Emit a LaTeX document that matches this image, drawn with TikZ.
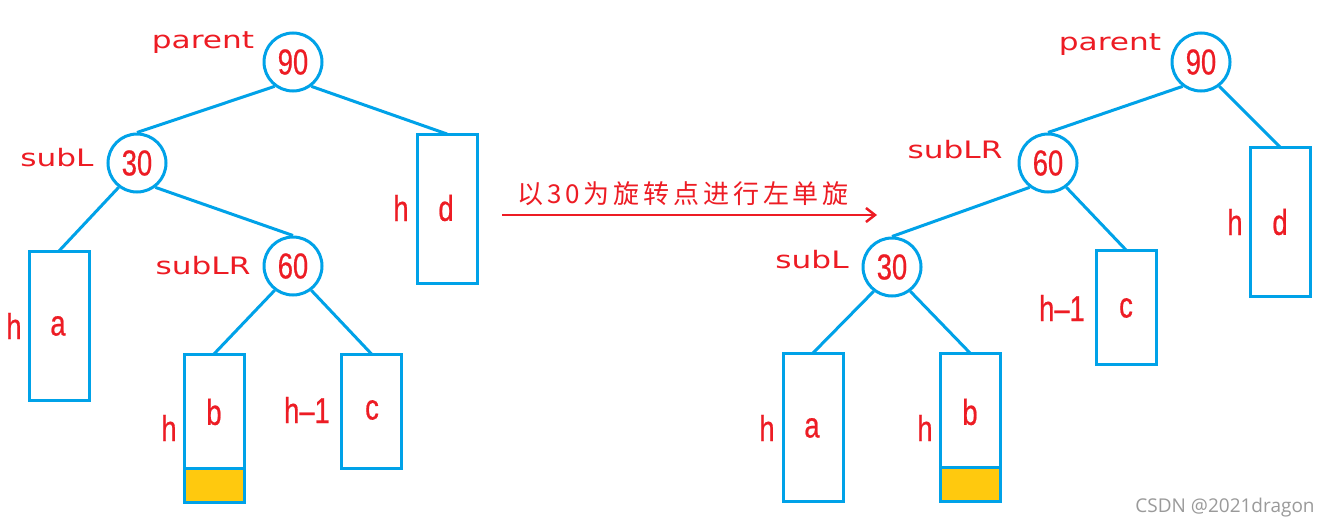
\documentclass[tikz,border=0pt]{standalone}
\usepackage{fontspec}
\usetikzlibrary{arrows.meta}
\newfontfamily\numfont[FakeStretch=0.76,FakeBold=0.6]{Liberation Sans}
\newfontfamily\lblfont[FakeStretch=1.3]{DejaVu Sans}
\newfontfamily\cjkfont[LetterSpace=15]{Noto Sans CJK SC}
\newfontfamily\wmfont{Open Sans}
\definecolor{tblue}{HTML}{00A2E8}
\definecolor{tred}{HTML}{ED1C24}
\definecolor{tyel}{HTML}{FFC90E}
\definecolor{wmgray}{HTML}{9A9A9A}
\begin{document}
\begin{tikzpicture}[x=1pt,y=-1pt,
  cnode/.style={circle,draw=tblue,line width=3pt,minimum size=58pt,inner sep=0pt,text=tred,font=\numfont\fontsize{36}{36}\selectfont},
  box/.style={draw=tblue,line width=3pt,minimum width=60pt,inner sep=0pt,outer sep=0pt},
  edge/.style={draw=tblue,line width=3pt},
  tx/.style={text=tred,font=\numfont\fontsize{36}{36}\selectfont,inner sep=0pt},
  lbl/.style={text=tred,font=\lblfont\fontsize{24}{24}\selectfont,inner sep=0pt}]
\fill[white] (0,0) rectangle (1330,530);
\useasboundingbox (0,0) rectangle (1330,530);

% ---------- left tree ----------
\node[cnode] (p1) at (293,62) {90};
\node[cnode] (s1) at (137,163) {30};
\node[cnode] (r1) at (293,266) {60};
\node[box,minimum height=149pt] (d1) at (447,208.5) {};
\node[box,minimum height=149pt] (a1) at (59,325.5) {};
\node[box,minimum height=148pt] (b1) at (214,428) {};
\node[box,minimum height=114pt] (c1) at (371.5,411) {};
\fill[tyel] ([shift={(1.5,-1.5)}]b1.south west) rectangle ([shift={(-1.5,-34)}]b1.south east);
\draw[edge] ([shift={(0,-34)}]b1.south west) -- ([shift={(0,-34)}]b1.south east);

\draw[edge] (p1.233) -- (s1.north);
\draw[edge] (p1.307) -- (d1.north);
\draw[edge] (s1.233) -- (a1.north);
\draw[edge] (s1.307) -- (r1.north);
\draw[edge] (r1.233) -- (b1.north);
\draw[edge] (r1.307) -- (c1.north);

\node[lbl] (lp1) at (203,43) {parent};
\node[lbl] (ls1) at (57,158) {subL};
\node[lbl] (lr1) at (203,266) {subLR};

\node[tx] (ta1) at (58,326) {a};
\node[tx] (tb1) at (214,412) {b};
\node[tx] (tc1) at (372,410) {c};
\node[tx] (td1) at (446,208) {d};
\node[tx] (ha1) at (14,326) {h};
\node[tx] (hb1) at (169,428) {h};
\node[tx] (hc1) at (307,410) {h–1};
\node[tx] (hd1) at (401,208) {h};

% ---------- arrow ----------
\coordinate (A0) at (502,215);
\coordinate (A1) at (877,215);
\draw[tred,line width=2.5pt,-{Straight Barb[length=9pt,width=14pt]}] (A0) -- (A1);
\node[text=tred,font=\cjkfont\fontsize{26}{26}\selectfont,inner sep=0pt] (arrtxt) at (683,194) {以30为旋转点进行左单旋};

% ---------- right tree ----------
\node[cnode] (p2) at (1201,62) {90};
\node[cnode] (r2) at (1048,163) {60};
\node[cnode] (s2) at (892,267) {30};
\node[box,minimum height=149pt] (d2) at (1280,221.5) {};
\node[box,minimum height=114pt] (c2) at (1126,307) {};
\node[box,minimum height=148pt] (a2) at (813,427) {};
\node[box,minimum height=148pt] (b2) at (970,427) {};
\fill[tyel] ([shift={(1.5,-1.5)}]b2.south west) rectangle ([shift={(-1.5,-34)}]b2.south east);
\draw[edge] ([shift={(0,-34)}]b2.south west) -- ([shift={(0,-34)}]b2.south east);

\draw[edge] (p2.233) -- (r2.north);
\draw[edge] (p2.307) -- (d2.north);
\draw[edge] (r2.233) -- (s2.north);
\draw[edge] (r2.307) -- (c2.north);
\draw[edge] (s2.233) -- (a2.north);
\draw[edge] (s2.307) -- (b2.north);

\node[lbl] (lp2) at (1110,45) {parent};
\node[lbl] (lr2) at (955,150) {subLR};
\node[lbl] (ls2) at (812,260) {subL};

\node[tx] (td2) at (1280,222) {d};
\node[tx] (tc2) at (1126,308) {c};
\node[tx] (ta2) at (812,428) {a};
\node[tx] (tb2) at (970,412) {b};
\node[tx] (hd2) at (1235,222) {h};
\node[tx] (hc2) at (1062,308) {h–1};
\node[tx] (ha2) at (767,428) {h};
\node[tx] (hb2) at (925,428) {h};

% ---------- watermark ----------
\node[text=wmgray,font=\wmfont\fontsize{19}{19}\selectfont,inner sep=0pt] (wm) at (1225,508) {CSDN @2021dragon};
\end{tikzpicture}
\end{document}
